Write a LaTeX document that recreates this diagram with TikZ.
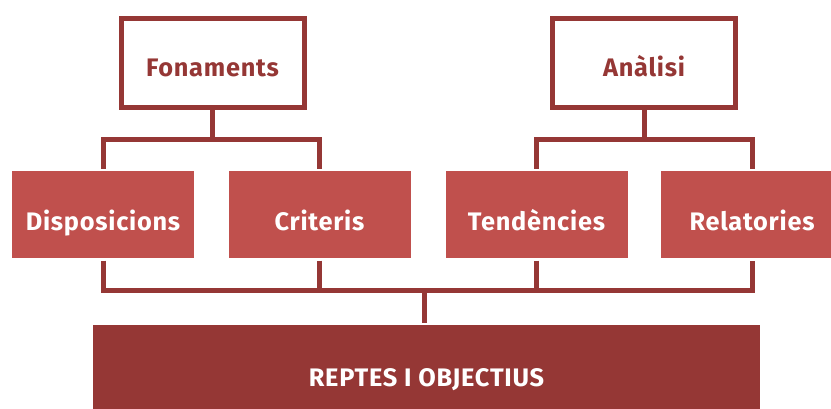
\documentclass[tikz,border=0pt]{standalone}
\usepackage{fontspec}
\setmainfont{Fira Sans}[LetterSpace=3]
\definecolor{boxred}{HTML}{C0504D}
\definecolor{darkred}{HTML}{953735}
\tikzset{every picture/.style={line width=3.75pt}}
\tikzset{
    topbox/.style={draw=darkred, fill=white, text=darkred, minimum width=137.25pt, minimum height=66.75pt, inner sep=0pt, text height=21.3pt, text depth=0pt, font=\bfseries\fontsize{19}{22}\selectfont},
    midbox/.style={fill=boxred, text=white, minimum width=136.5pt, minimum height=65.25pt, inner sep=0pt, text height=23.6pt, text depth=0pt, font=\bfseries\fontsize{19}{22}\selectfont},
    basebox/.style={fill=darkred, text=white, minimum width=500.25pt, minimum height=76.5pt, inner sep=0pt, text height=16pt, text depth=0pt, font=\bfseries\fontsize{19}{22}\selectfont},
    link/.style={draw=darkred}}
\def\bary{139.5}
\def\lowy{290}

\begin{document}
\begin{tikzpicture}[x=0.75pt,y=0.75pt,yscale=-1,xscale=1]
            \clip (0,0) rectangle (831,408);
            %Top boxes
            \node [topbox] (fon) at (212.5,62.5) {Fonaments};
            \node [topbox] (ana) at (644,62.5) {Anàlisi};

            %Middle boxes
            \node [midbox] (disp) at (103,214.5) {Disposicions};
            \node [midbox] (crit) at (319.5,214.5) {Criteris};
            \node [midbox] (tend) at (536.5,214.5) {Tendències};
            \node [midbox] (rel) at (752,214.5) {Relatories};

            %Base box
            \node [basebox] (rep) at (426.5,376) {REPTES I OBJECTIUS};

            %Links top
            \coordinate (fonbar) at (212.5,\bary);
            \coordinate (anabar) at (644,\bary);
            \draw [link] (fon.south) -- (fonbar);
            \draw [link] (disp.north) |- (fonbar) -| (crit.north);
            \draw [link] (ana.south) -- (anabar);
            \draw [link] (tend.north) |- (anabar) -| (rel.north);

            %Links bottom
            \coordinate (lowbar) at (424,\lowy);
            \draw [link] (disp.south) |- (lowbar) -| (rel.south);
            \draw [link] (crit.south) -- (crit.south |- lowbar);
            \draw [link] (tend.south) -- (tend.south |- lowbar);
            \draw [link] (lowbar) -- (lowbar |- rep.north);
        \end{tikzpicture}
\end{document}
